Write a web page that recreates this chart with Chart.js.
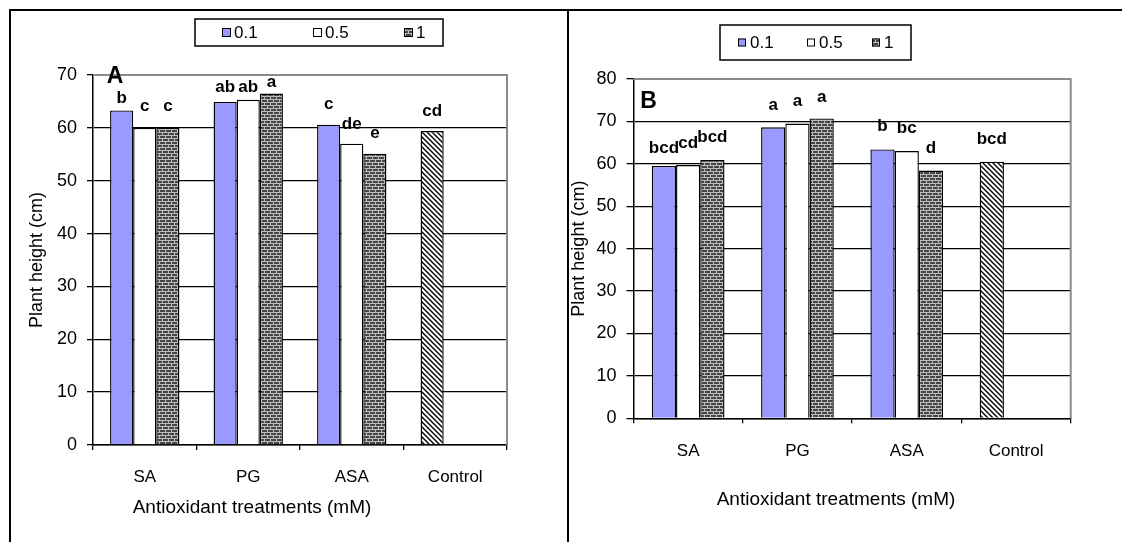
<!DOCTYPE html>
<html><head><meta charset="utf-8">
<script src="https://cdn.jsdelivr.net/npm/chart.js@4.4.1/dist/chart.umd.min.js"></script>
<style>
html,body{margin:0;padding:0;background:#fff;}
#wrap{position:relative;width:1125px;height:542px;overflow:hidden;background:#fff;}
canvas{position:absolute;top:0;}
#cA{left:0;}
#cB{left:560px;}
.ln{position:absolute;background:#000;z-index:5;}
</style></head><body>
<div id="wrap">
<canvas id="cA" width="568" height="542" style="width:568px;height:542px"></canvas>
<canvas id="cB" width="565" height="542" style="width:565px;height:542px"></canvas>
<div class="ln" style="left:9px;top:9px;width:1113px;height:2px"></div>
<div class="ln" style="left:9px;top:9px;width:2px;height:533px"></div>
<div class="ln" style="left:567px;top:9px;width:2px;height:533px"></div>
</div>
<script>
// ---- data ----
const categories = ['SA', 'PG', 'ASA', 'Control'];
const doseLabels = ['0.1', '0.5', '1'];
const yMaxA = 70, yMaxB = 80, yStep = 10;
const xTitleText = 'Antioxidant treatments (mM)';
const yTitleText = 'Plant height (cm)';

const heightA_01 = [63.3, 64.9, 60.6, 59.4];
const heightA_05 = [60.0, 65.3, 57.0, null];
const heightA_1  = [60.0, 66.5, 55.1, null];
const lettersA_01 = ['b', 'ab', 'c', 'cd'];
const lettersA_05 = ['c', 'ab', 'de', null];
const lettersA_1  = ['c', 'a', 'e', null];
const letterLevelA_01 = [65.5, 67.7, 64.5, 63.2];
const letterLevelA_05 = [64.0, 67.7, 60.7, null];
const letterLevelA_1  = [64.0, 68.7, 58.9, null];

const heightB_01 = [59.5, 68.6, 63.4, 60.5];
const heightB_05 = [59.7, 69.5, 63.0, null];
const heightB_1  = [60.9, 70.7, 58.4, null];
const lettersB_01 = ['bcd', 'a', 'b', 'bcd'];
const lettersB_05 = ['cd', 'a', 'bc', null];
const lettersB_1  = ['bcd', 'a', 'd', null];
const letterLevelB_01 = [63.7, 73.7, 68.8, 65.8];
const letterLevelB_05 = [64.9, 74.7, 68.4, null];
const letterLevelB_1  = [66.3, 75.7, 63.7, null];

// ---- styling helpers ----
Chart.defaults.font.family = '"Liberation Sans", Arial, sans-serif';
Chart.defaults.color = '#000';
const FONT = '"Liberation Sans", Arial, sans-serif';

function brickPattern(ctx) {
  const c = document.createElement('canvas'); c.width = 6; c.height = 6;
  const g = c.getContext('2d');
  g.fillStyle = '#454545'; g.fillRect(0, 0, 6, 6);
  g.fillStyle = '#bdbdbd';
  g.fillRect(0, 0, 6, 1); g.fillRect(0, 3, 6, 1);
  g.fillRect(0, 1, 1, 2); g.fillRect(3, 4, 1, 2);
  return ctx.createPattern(c, 'repeat');
}
function hatchPattern(ctx) {
  const c = document.createElement('canvas'); c.width = 5; c.height = 5;
  const g = c.getContext('2d');
  g.fillStyle = '#fff'; g.fillRect(0, 0, 5, 5);
  g.strokeStyle = '#000'; g.lineWidth = 1.4;
  g.beginPath();
  g.moveTo(-1, -1); g.lineTo(6, 6);
  g.moveTo(-1, 4); g.lineTo(1, 6);
  g.moveTo(4, -1); g.lineTo(6, 1);
  g.stroke();
  return ctx.createPattern(c, 'repeat');
}

const decorPlugin = {
  id: 'decor',
  afterDatasetsDraw(chart) {
    const o = chart.options.plugins.decor;
    const ctx = chart.ctx, a = chart.chartArea, ys = chart.scales.y;
    ctx.save();
    // plot-area top/right border (gray)
    ctx.strokeStyle = '#8a8a8a'; ctx.lineWidth = 2;
    ctx.beginPath();
    ctx.moveTo(a.left, a.top); ctx.lineTo(a.right, a.top); ctx.lineTo(a.right, a.bottom);
    ctx.stroke();
    // significance letters
    ctx.fillStyle = '#000';
    ctx.font = 'bold ' + o.letterSize + 'px ' + FONT;
    ctx.textAlign = 'center'; ctx.textBaseline = 'middle';
    chart.data.datasets.forEach((ds, i) => {
      const meta = chart.getDatasetMeta(i);
      ds.letters.forEach((t, j) => {
        if (!t) return;
        ctx.fillText(t, meta.data[j].x, ys.getPixelForValue(ds.letterLevels[j]));
      });
    });
    // panel letter
    ctx.font = 'bold ' + o.panelSize + 'px ' + FONT;
    ctx.fillText(o.panel, a.left + o.panelDx, a.top + o.panelDy);
    ctx.restore();
  },
  afterDraw(chart) {
    const o = chart.options.plugins.decor;
    const ctx = chart.ctx;
    ctx.save();
    // x-axis title
    ctx.fillStyle = '#000';
    ctx.font = o.xTitleSize + 'px ' + FONT;
    ctx.textAlign = 'center'; ctx.textBaseline = 'middle';
    ctx.fillText(xTitleText, o.xTitleX, o.xTitleY);
    // legend
    const L = o.legend;
    ctx.strokeStyle = '#000'; ctx.lineWidth = 1.5;
    ctx.fillStyle = '#fff';
    ctx.fillRect(L.x, L.y, L.w, L.h);
    ctx.strokeRect(L.x, L.y, L.w, L.h);
    ctx.font = L.size + 'px ' + FONT;
    ctx.textAlign = 'left'; ctx.textBaseline = 'middle';
    chart.data.datasets.forEach((ds, i) => {
      const sx = L.items[i];
      const cy = L.y + L.h / 2;
      ctx.fillStyle = Array.isArray(ds.backgroundColor) ? ds.backgroundColor[0] : ds.backgroundColor;
      ctx.fillRect(sx, cy - L.box / 2, L.box, L.box);
      ctx.lineWidth = 1;
      ctx.strokeRect(sx + 0.5, cy - L.box / 2 + 0.5, L.box - 1, L.box - 1);
      ctx.fillStyle = '#000';
      ctx.fillText(ds.label, sx + L.box + L.gap, cy + 1);
    });
    ctx.restore();
  }
};

function makeChart(id, cfg) {
  const el = document.getElementById(id);
  const ctx = el.getContext('2d');
  const brick = brickPattern(ctx), hatch = hatchPattern(ctx);
  return new Chart(el, {
    type: 'bar',
    data: {
      labels: categories,
      datasets: [
        { label: doseLabels[0], data: cfg.s[0],
          backgroundColor: categories.map(c => c === 'Control' ? hatch : '#9999FF'),
          borderColor: '#000', borderWidth: 1.4,
          letters: cfg.l[0], letterLevels: cfg.ll[0] },
        { label: doseLabels[1], data: cfg.s[1], backgroundColor: '#ffffff',
          borderColor: '#000', borderWidth: 1.4,
          letters: cfg.l[1], letterLevels: cfg.ll[1] },
        { label: doseLabels[2], data: cfg.s[2], backgroundColor: brick,
          borderColor: '#000', borderWidth: 1.4,
          letters: cfg.l[2], letterLevels: cfg.ll[2] }
      ]
    },
    options: {
      responsive: false, animation: false, devicePixelRatio: 1,
      layout: { padding: cfg.padding },
      datasets: { bar: { categoryPercentage: cfg.catPct, barPercentage: 1 } },
      plugins: {
        legend: { display: false }, tooltip: { enabled: false },
        decor: cfg.decor
      },
      scales: {
        x: {
          grid: { display: true, drawOnChartArea: false, drawTicks: true, tickLength: 5,
                  tickColor: '#000', color: '#000', lineWidth: 1.3 },
          border: { display: true, color: '#000', width: 1.5 },
          ticks: { color: '#000', font: { size: cfg.xTickSize }, padding: cfg.xTickPad, maxRotation: 0 },
          afterFit: s => { s.height = cfg.xH; }
        },
        y: {
          min: 0, max: cfg.yMax,
          ticks: { stepSize: yStep, color: '#000', font: { size: 18 }, padding: 10 },
          grid: { color: c => (c.tick && c.tick.value === cfg.yMax) ? '#8a8a8a' : '#000',
                  lineWidth: 1.3, tickLength: cfg.yTickLen, tickColor: '#000' },
          border: { display: true, color: '#000', width: 1.5 },
          title: { display: true, text: yTitleText, color: '#000', font: { size: 18 },
                   padding: { top: cfg.yTitlePad, bottom: 0 } },
          afterFit: s => { s.width = cfg.yW; }
        }
      }
    },
    plugins: [decorPlugin]
  });
}

makeChart('cA', {
  s: [heightA_01, heightA_05, heightA_1],
  l: [lettersA_01, lettersA_05, lettersA_1],
  ll: [letterLevelA_01, letterLevelA_05, letterLevelA_1],
  yMax: yMaxA, catPct: 0.67,
  padding: { left: 20, right: 61, top: 75, bottom: 23.2 },
  yW: 73, xH: 73.8, xTickPad: 17, xTickSize: 17, yTickLen: 6, yTitlePad: 6.2,
  decor: {
    letterSize: 17, panel: 'A', panelSize: 23, panelDx: 22, panelDy: 2,
    xTitleSize: 19, xTitleX: 252, xTitleY: 508,
    legend: { x: 195, y: 19, w: 248, h: 27, size: 17, box: 9, gap: 3, items: [222, 313, 404] }
  }
});

makeChart('cB', {
  s: [heightB_01, heightB_05, heightB_1],
  l: [lettersB_01, lettersB_05, lettersB_1],
  ll: [letterLevelB_01, letterLevelB_05, letterLevelB_1],
  yMax: yMaxB, catPct: 0.665,
  padding: { left: 0, right: 54.3, top: 79, bottom: 31.2 },
  yW: 73.5, xH: 92.5, xTickPad: 18.2, xTickSize: 17, yTickLen: 7, yTitlePad: 8.2,
  decor: {
    letterSize: 17, panel: 'B', panelSize: 23, panelDx: 15, panelDy: 22.7,
    xTitleSize: 19, xTitleX: 276, xTitleY: 500,
    legend: { x: 160, y: 25, w: 191, h: 35, size: 17, box: 8, gap: 4, items: [178, 247, 312] }
  }
});
</script>
</body></html>
